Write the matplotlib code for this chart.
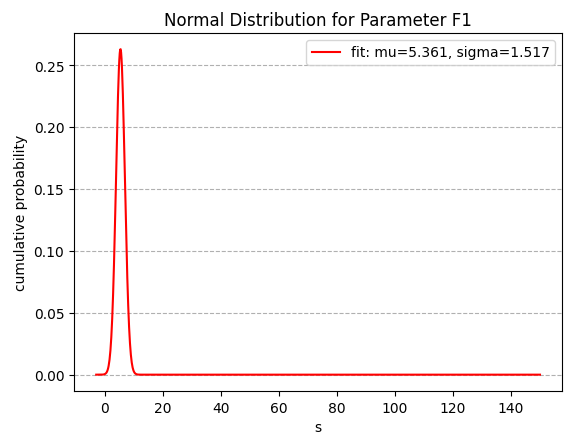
import numpy as np
import matplotlib.pyplot as plt

# fitted parameters shown in the legend
mu = 5.361
sigma = 1.517
x_start, x_end = -3, 150
n_points = 1000

x = np.linspace(x_start, x_end, n_points)
pdf = np.exp(-0.5 * ((x - mu) / sigma) ** 2) / (sigma * np.sqrt(2 * np.pi))

fig, ax = plt.subplots(figsize=(5.65, 4.35), dpi=100)
fig.subplots_adjust(left=0.131, right=0.995, top=0.922, bottom=0.099)

ax.plot(x, pdf, color="red", label=f"fit: mu={mu}, sigma={sigma}")
ax.set_title("Normal Distribution for Parameter F1")
ax.set_xlabel("s")
ax.set_ylabel("cumulative probability")
ax.grid(axis="y", linestyle="--", color="#b0b0b0")
ax.legend(loc="upper right")

fig.savefig("out.png", dpi=100)
